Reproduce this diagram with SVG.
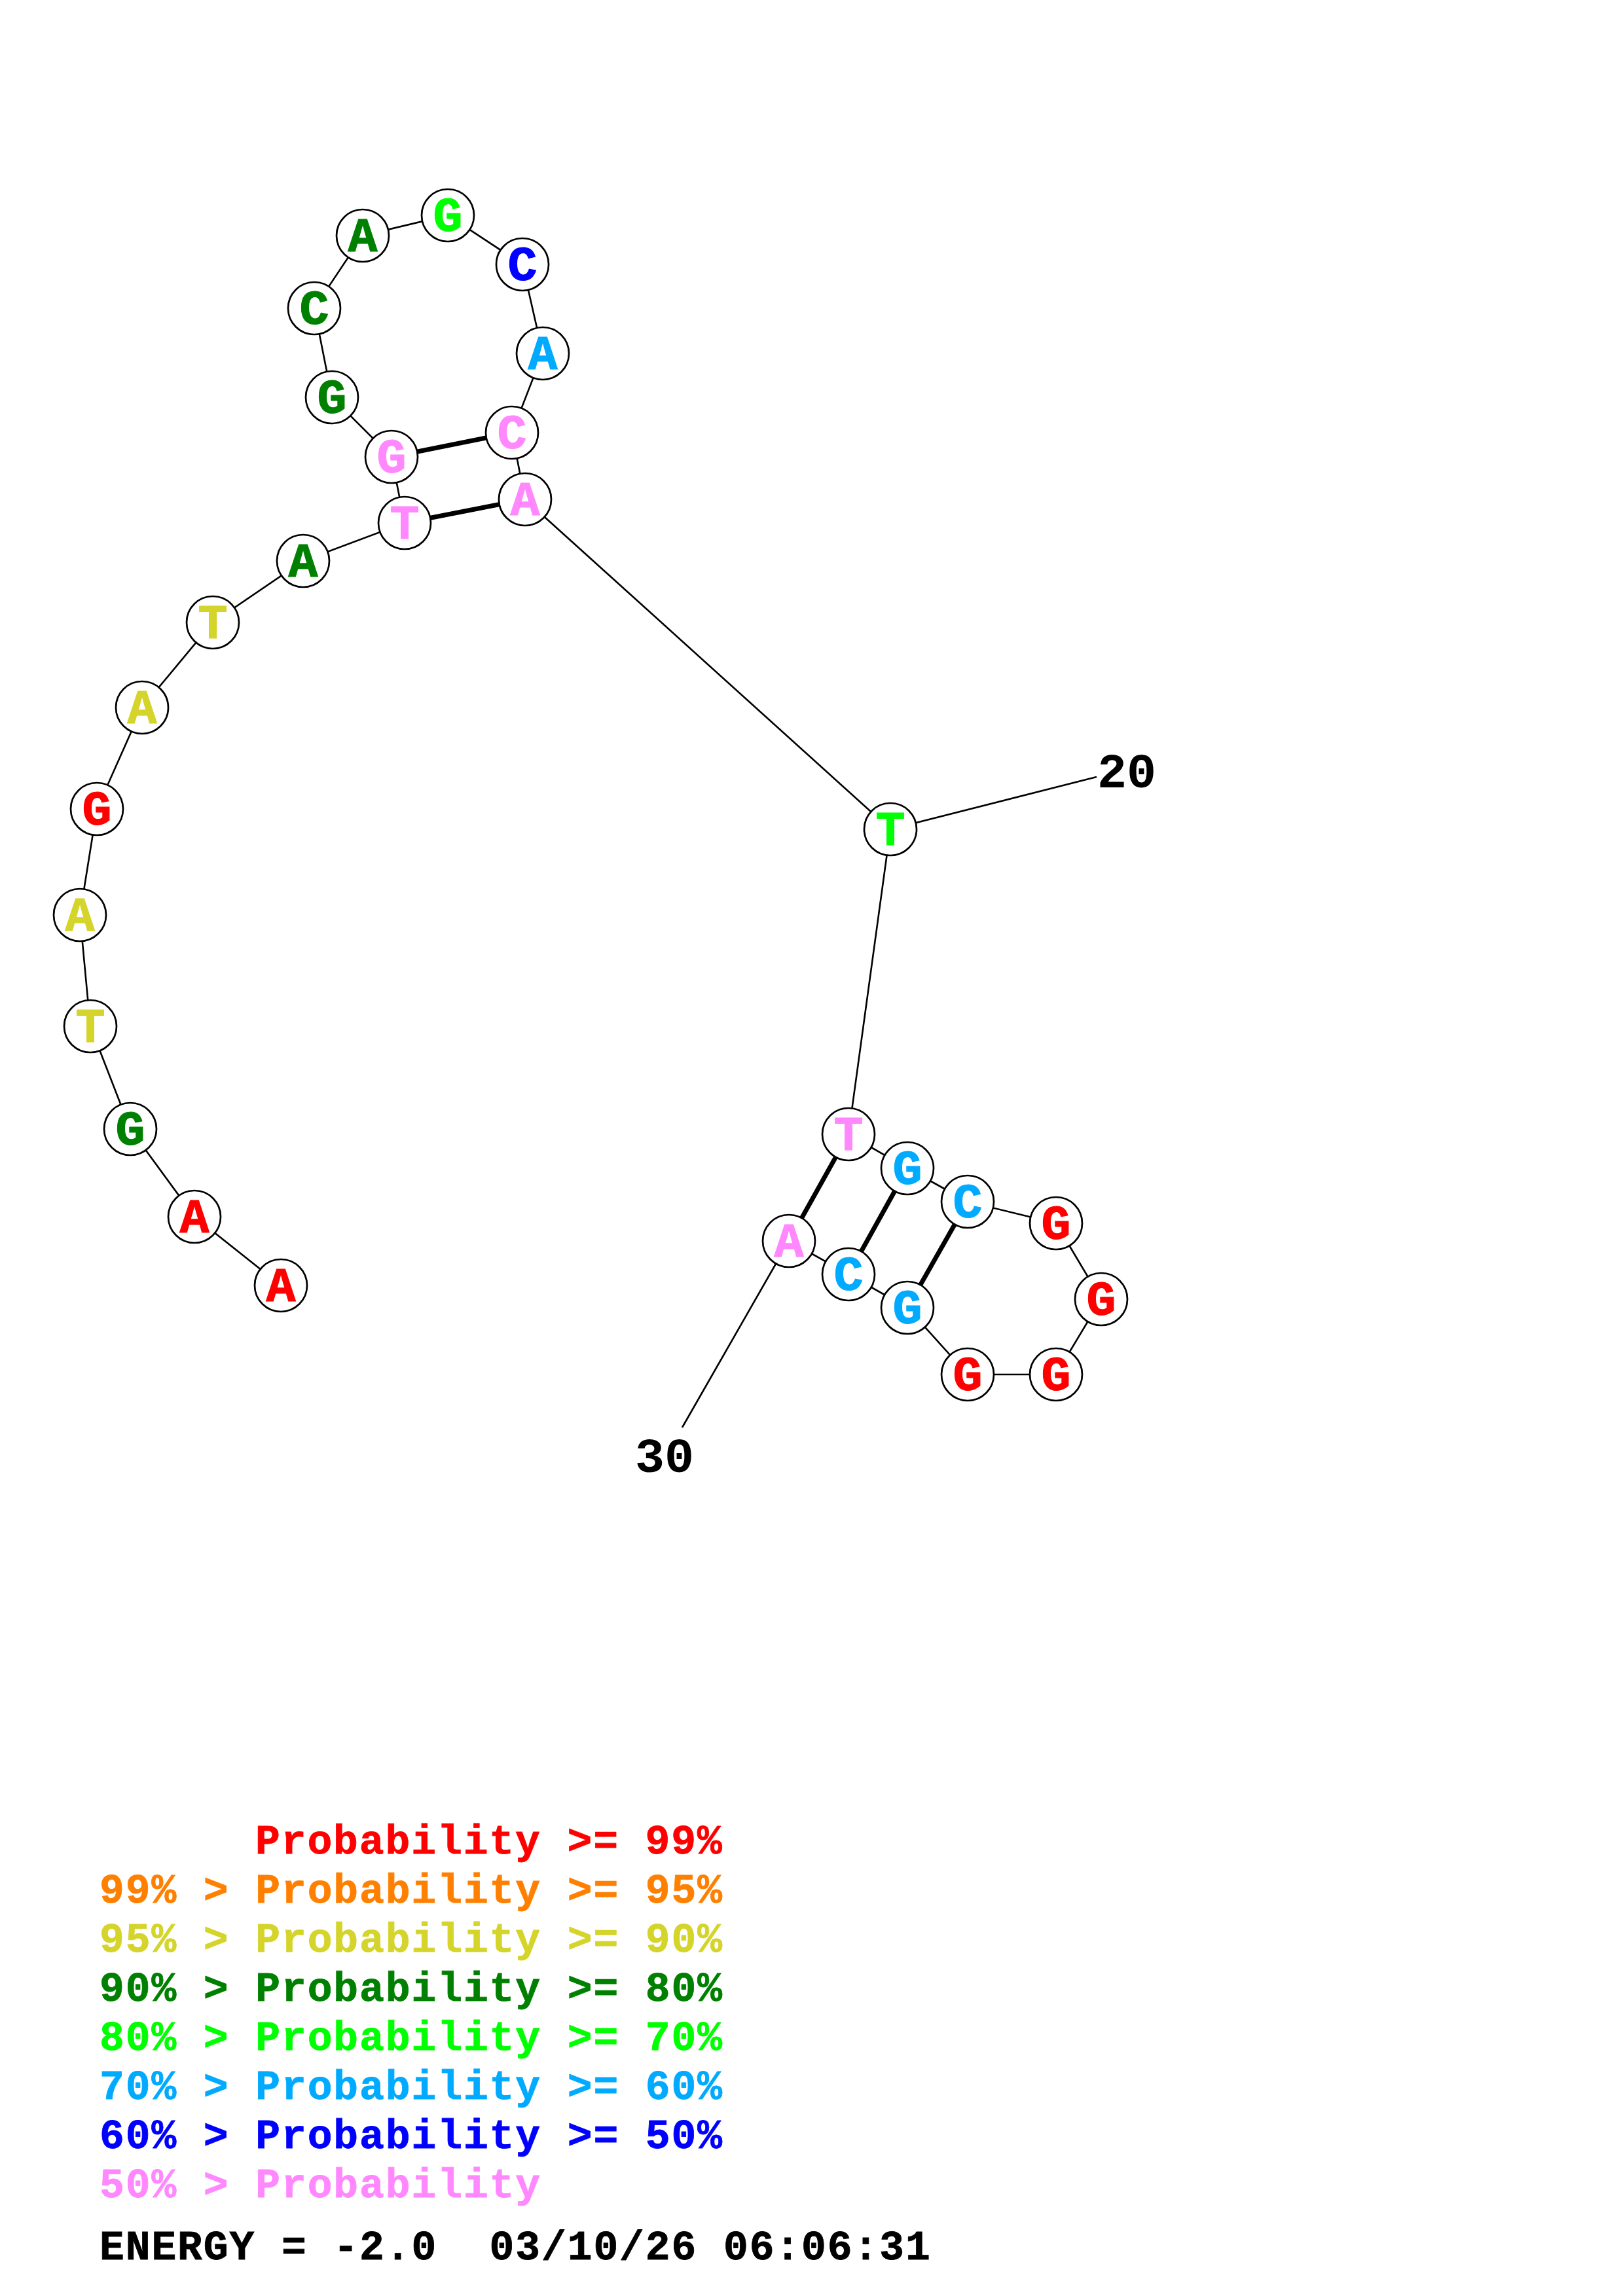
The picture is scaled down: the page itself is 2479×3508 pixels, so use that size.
<svg xmlns="http://www.w3.org/2000/svg" width="2479" height="3508" viewBox="0 0 2479 3508">
<style>
.bb{stroke:#000;stroke-width:2.6;fill:none}
.bond{stroke:#000;stroke-width:7;fill:none}
.nc{fill:#fff;stroke:#000;stroke-width:2.7}
.nt{font-family:"Liberation Mono","DejaVu Sans Mono",monospace;font-weight:bold;font-size:75px;text-anchor:middle;stroke-width:1.2}
.lab{font-family:"Liberation Mono","DejaVu Sans Mono",monospace;font-weight:bold;font-size:75px;fill:#000}
.leg{font-family:"Liberation Mono","DejaVu Sans Mono",monospace;font-weight:bold;font-size:63px;letter-spacing:1.9px;white-space:pre;stroke-width:0.8}
.red{fill:#FF0000;stroke:#FF0000}.org{fill:#FF8000;stroke:#FF8000}.yel{fill:#D4D42B;stroke:#D4D42B}.dgr{fill:#008000;stroke:#008000}.grn{fill:#00FF00;stroke:#00FF00}.lbl{fill:#00AAFF;stroke:#00AAFF}.blu{fill:#0000FF;stroke:#0000FF}.pnk{fill:#FF88FF;stroke:#FF88FF}.blk{fill:#000;stroke:#000}
</style>
<rect width="2479" height="3508" fill="#fff"/>
<g id="connectors">
<polyline class="bb" points="429,1964 297,1859 199,1725 138,1568 122,1398 148,1236 217,1081 325,951 463,857 618,799 598,698 507,607 480,471 554,360 684,329 798,404 829,540 782,661 802,763 1360,1267 1296,1733 1386,1785 1478,1836 1613,1869 1682,1985 1613,2100 1478,2100 1386,1998 1296,1947 1205,1896"/>
<line class="bb" x1="1360" y1="1267" x2="1675" y2="1187"/>
<line class="bb" x1="1205" y1="1896" x2="1042" y2="2181"/>
<line class="bond" x1="618" y1="799" x2="802" y2="763"/>
<line class="bond" x1="598" y1="698" x2="782" y2="661"/>
<line class="bond" x1="1296" y1="1733" x2="1205" y2="1896"/>
<line class="bond" x1="1386" y1="1785" x2="1296" y2="1947"/>
<line class="bond" x1="1478" y1="1836" x2="1386" y2="1998"/>
</g>
<g id="n1"><circle class="nc" cx="429" cy="1964" r="40"/><text class="nt red" x="429" y="1988">A</text></g>
<g id="n2"><circle class="nc" cx="297" cy="1859" r="40"/><text class="nt red" x="297" y="1883">A</text></g>
<g id="n3"><circle class="nc" cx="199" cy="1725" r="40"/><text class="nt dgr" x="199" y="1749">G</text></g>
<g id="n4"><circle class="nc" cx="138" cy="1568" r="40"/><text class="nt yel" x="138" y="1592">T</text></g>
<g id="n5"><circle class="nc" cx="122" cy="1398" r="40"/><text class="nt yel" x="122" y="1422">A</text></g>
<g id="n6"><circle class="nc" cx="148" cy="1236" r="40"/><text class="nt red" x="148" y="1260">G</text></g>
<g id="n7"><circle class="nc" cx="217" cy="1081" r="40"/><text class="nt yel" x="217" y="1105">A</text></g>
<g id="n8"><circle class="nc" cx="325" cy="951" r="40"/><text class="nt yel" x="325" y="975">T</text></g>
<g id="n9"><circle class="nc" cx="463" cy="857" r="40"/><text class="nt dgr" x="463" y="881">A</text></g>
<g id="n10"><circle class="nc" cx="618" cy="799" r="40"/><text class="nt pnk" x="618" y="823">T</text></g>
<g id="n11"><circle class="nc" cx="598" cy="698" r="40"/><text class="nt pnk" x="598" y="722">G</text></g>
<g id="n12"><circle class="nc" cx="507" cy="607" r="40"/><text class="nt dgr" x="507" y="631">G</text></g>
<g id="n13"><circle class="nc" cx="480" cy="471" r="40"/><text class="nt dgr" x="480" y="495">C</text></g>
<g id="n14"><circle class="nc" cx="554" cy="360" r="40"/><text class="nt dgr" x="554" y="384">A</text></g>
<g id="n15"><circle class="nc" cx="684" cy="329" r="40"/><text class="nt grn" x="684" y="353">G</text></g>
<g id="n16"><circle class="nc" cx="798" cy="404" r="40"/><text class="nt blu" x="798" y="428">C</text></g>
<g id="n17"><circle class="nc" cx="829" cy="540" r="40"/><text class="nt lbl" x="829" y="564">A</text></g>
<g id="n18"><circle class="nc" cx="782" cy="661" r="40"/><text class="nt pnk" x="782" y="685">C</text></g>
<g id="n19"><circle class="nc" cx="802" cy="763" r="40"/><text class="nt pnk" x="802" y="787">A</text></g>
<g id="n20"><circle class="nc" cx="1360" cy="1267" r="40"/><text class="nt grn" x="1360" y="1291">T</text></g>
<g id="n21"><circle class="nc" cx="1296" cy="1733" r="40"/><text class="nt pnk" x="1296" y="1757">T</text></g>
<g id="n22"><circle class="nc" cx="1386" cy="1785" r="40"/><text class="nt lbl" x="1386" y="1809">G</text></g>
<g id="n23"><circle class="nc" cx="1478" cy="1836" r="40"/><text class="nt lbl" x="1478" y="1860">C</text></g>
<g id="n24"><circle class="nc" cx="1613" cy="1869" r="40"/><text class="nt red" x="1613" y="1893">G</text></g>
<g id="n25"><circle class="nc" cx="1682" cy="1985" r="40"/><text class="nt red" x="1682" y="2009">G</text></g>
<g id="n26"><circle class="nc" cx="1613" cy="2100" r="40"/><text class="nt red" x="1613" y="2124">G</text></g>
<g id="n27"><circle class="nc" cx="1478" cy="2100" r="40"/><text class="nt red" x="1478" y="2124">G</text></g>
<g id="n28"><circle class="nc" cx="1386" cy="1998" r="40"/><text class="nt lbl" x="1386" y="2022">G</text></g>
<g id="n29"><circle class="nc" cx="1296" cy="1947" r="40"/><text class="nt lbl" x="1296" y="1971">C</text></g>
<g id="n30"><circle class="nc" cx="1205" cy="1896" r="40"/><text class="nt pnk" x="1205" y="1920">A</text></g>
<g id="labels">
<text class="lab" x="1676" y="1203">20</text>
<text class="lab" x="970" y="2249">30</text>
</g>
<g id="legend">
<text class="leg red" x="390" y="2832">Probability &gt;= 99%</text>
<text class="leg org" x="152" y="2907">99% &gt; Probability &gt;= 95%</text>
<text class="leg yel" x="152" y="2982">95% &gt; Probability &gt;= 90%</text>
<text class="leg dgr" x="152" y="3057">90% &gt; Probability &gt;= 80%</text>
<text class="leg grn" x="152" y="3132">80% &gt; Probability &gt;= 70%</text>
<text class="leg lbl" x="152" y="3207">70% &gt; Probability &gt;= 60%</text>
<text class="leg blu" x="152" y="3282">60% &gt; Probability &gt;= 50%</text>
<text class="leg pnk" x="152" y="3357">50% &gt; Probability</text>
<text class="leg blk" x="152" y="3452">ENERGY = -2.0  03/10/26 06:06:31</text>
</g>
</svg>
